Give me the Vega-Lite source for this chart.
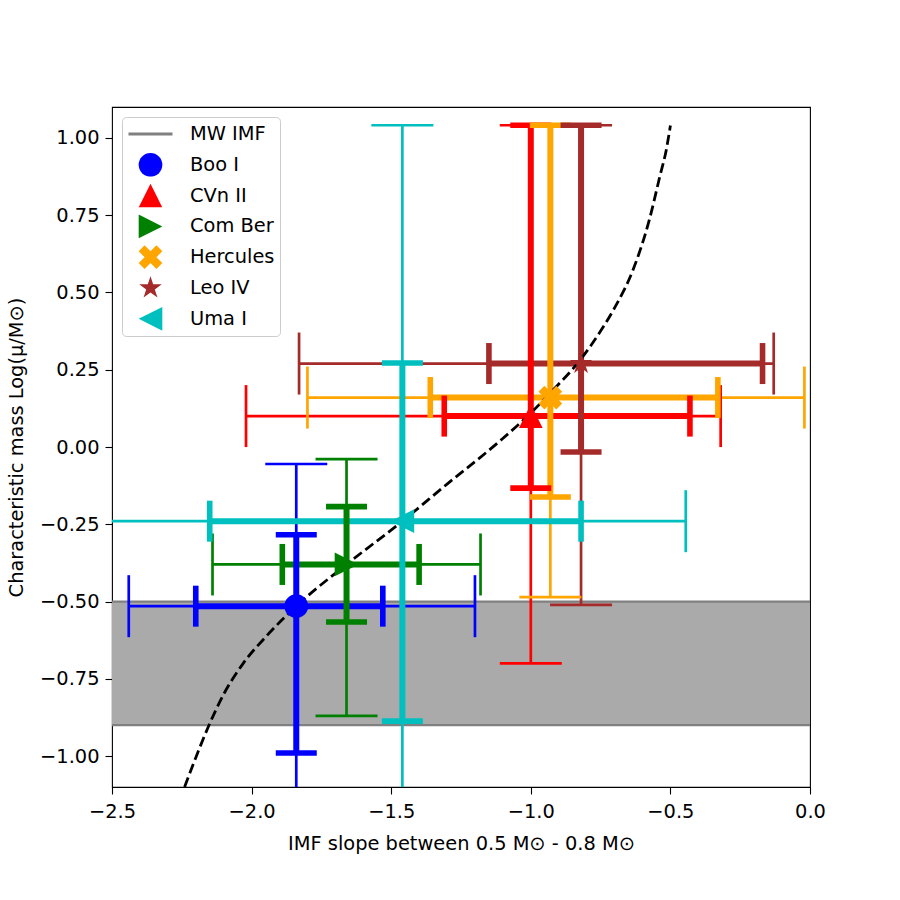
{
  "$schema": "https://vega.github.io/schema/vega-lite/v6.json",
  "autosize": {"type": "none"},
  "width": 698,
  "height": 680,
  "padding": {"left": 112, "top": 107, "right": 90, "bottom": 113},
  "background": "white",
  "config": {
    "view": {"stroke": "black", "strokeWidth": 1.1},
    "axis": {
      "grid": false,
      "domain": false,
      "ticks": true,
      "tickColor": "black",
      "tickWidth": 1.1,
      "tickSize": 7,
      "labelFont": "DejaVu Sans",
      "labelFontSize": 19.4,
      "labelColor": "black",
      "labelPadding": 6,
      "labelFlush": false,
      "labelOverlap": false,
      "titleFont": "DejaVu Sans",
      "titleFontSize": 19.4,
      "titleFontWeight": "normal",
      "titleColor": "black"
    },
    "legend": {
      "orient": "top-left",
      "offset": 10,
      "padding": 5,
      "clipHeight": 24,
      "rowPadding": 6.8,
      "labelOffset": 16,
      "strokeColor": "#cccccc",
      "fillColor": "#ffffff",
      "cornerRadius": 4,
      "symbolOpacity": 1,
      "labelFont": "DejaVu Sans",
      "labelFontSize": 19.4,
      "labelColor": "black",
      "labelLimit": 300
    }
  },
  "datasets": {
    "galaxies": [
      {"name": "Boo I", "x": -1.84, "y": -0.515, "xlo1": -2.20, "xhi1": -1.53, "xlo2": -2.44, "xhi2": -1.20, "ylo1": -0.99, "yhi1": -0.284, "ylo2": -1.5, "yhi2": -0.055},
      {"name": "CVn II", "x": -1.0, "y": 0.10, "xlo1": -1.31, "xhi1": -0.43, "xlo2": -2.02, "xhi2": -0.32, "ylo1": -0.133, "yhi1": 1.041, "ylo2": -0.70, "yhi2": 1.041},
      {"name": "Com Ber", "x": -1.66, "y": -0.38, "xlo1": -1.89, "xhi1": -1.40, "xlo2": -2.14, "xhi2": -1.18, "ylo1": -0.566, "yhi1": -0.193, "ylo2": -0.87, "yhi2": -0.039},
      {"name": "Hercules", "x": -0.93, "y": 0.16, "xlo1": -1.36, "xhi1": -0.33, "xlo2": -1.80, "xhi2": -0.02, "ylo1": -0.162, "yhi1": 1.041, "ylo2": -0.486, "yhi2": 1.041},
      {"name": "Leo IV", "x": -0.82, "y": 0.27, "xlo1": -1.15, "xhi1": -0.17, "xlo2": -1.83, "xhi2": -0.13, "ylo1": -0.016, "yhi1": 1.041, "ylo2": -0.511, "yhi2": 1.041},
      {"name": "Uma I", "x": -1.46, "y": -0.24, "xlo1": -2.15, "xhi1": -0.82, "xlo2": -2.7, "xhi2": -0.445, "ylo1": -0.887, "yhi1": 0.272, "ylo2": -1.4, "yhi2": 1.041}
    ],
    "mwBand": [{"lo": -0.9, "hi": -0.5}],
    "mwEdges": [{"v": -0.5}, {"v": -0.9}],
    "imfCurve": [
      {"slope": -2.24, "mass": -1.10},
      {"slope": -2.20, "mass": -1.005},
      {"slope": -2.155, "mass": -0.905},
      {"slope": -2.10, "mass": -0.80},
      {"slope": -2.03, "mass": -0.70},
      {"slope": -1.95, "mass": -0.615},
      {"slope": -1.84, "mass": -0.515},
      {"slope": -1.66, "mass": -0.38},
      {"slope": -1.46, "mass": -0.24},
      {"slope": -1.30, "mass": -0.12},
      {"slope": -1.11, "mass": 0.02},
      {"slope": -1.00, "mass": 0.11},
      {"slope": -0.93, "mass": 0.175},
      {"slope": -0.82, "mass": 0.285},
      {"slope": -0.75, "mass": 0.375},
      {"slope": -0.70, "mass": 0.45},
      {"slope": -0.633, "mass": 0.575},
      {"slope": -0.574, "mass": 0.74},
      {"slope": -0.538, "mass": 0.875},
      {"slope": -0.514, "mass": 0.965},
      {"slope": -0.50, "mass": 1.04}
    ]
  },
  "resolve": {"scale": {"x": "shared", "y": "shared", "color": "shared", "shape": "shared", "stroke": "shared", "fill": "shared"}},
  "layer": [
    {
      "data": {"name": "mwBand"},
      "mark": {"type": "rect", "color": "#aaaaaa", "clip": true},
      "encoding": {
        "x": {"value": 0},
        "x2": {"value": "width"},
        "y": {"field": "lo", "type": "quantitative",
              "scale": {"domain": [-1.1, 1.1], "nice": false, "zero": false},
              "axis": {"values": [-1, -0.75, -0.5, -0.25, 0, 0.25, 0.5, 0.75, 1], "format": ".2f",
                       "title": "Characteristic mass Log(μ/M⊙)", "titlePadding": 13}},
        "y2": {"field": "hi"}
      }
    },
    {
      "data": {"name": "mwEdges"},
      "mark": {"type": "rule", "color": "#808080", "strokeWidth": 2.2},
      "encoding": {
        "y": {"field": "v", "type": "quantitative"}
      }
    },
    {
      "data": {"name": "galaxies"},
      "mark": {"type": "rule", "strokeWidth": 2.7, "clip": true},
      "encoding": {
        "x": {"field": "xlo2", "type": "quantitative",
              "scale": {"domain": [-2.5, 0], "nice": false, "zero": false},
              "axis": {"values": [-2.5, -2, -1.5, -1, -0.5, 0], "format": ".1f", "labelPadding": 8,
                       "title": "IMF slope between 0.5 M⊙ - 0.8 M⊙", "titlePadding": 14}},
        "x2": {"field": "xhi2"},
        "y": {"field": "y", "type": "quantitative"},
        "stroke": {"field": "name", "type": "nominal", "legend": null,
                   "scale": {"domain": ["Boo I", "CVn II", "Com Ber", "Hercules", "Leo IV", "Uma I"],
                             "range": ["#0000ff", "#ff0000", "#008000", "#ffa500", "#a52a2a", "#00bfbf"]}}
      }
    },
    {
      "data": {"name": "galaxies"},
      "mark": {"type": "rule", "strokeWidth": 2.7, "clip": true},
      "encoding": {
        "x": {"field": "x", "type": "quantitative"},
        "y": {"field": "ylo2", "type": "quantitative"},
        "y2": {"field": "yhi2"},
        "stroke": {"field": "name", "type": "nominal", "legend": null}
      }
    },
    {
      "data": {"name": "galaxies"},
      "transform": [{"fold": ["xlo2", "xhi2"], "as": ["end", "xcap"]}],
      "mark": {"type": "tick", "orient": "vertical", "size": 62, "thickness": 2.7, "clip": true, "opacity": 1},
      "encoding": {
        "x": {"field": "xcap", "type": "quantitative"},
        "y": {"field": "y", "type": "quantitative"},
        "fill": {"field": "name", "type": "nominal", "legend": null,
                 "scale": {"domain": ["Boo I", "CVn II", "Com Ber", "Hercules", "Leo IV", "Uma I"],
                           "range": ["#0000ff", "#ff0000", "#008000", "#ffa500", "#a52a2a", "#00bfbf"]}}
      }
    },
    {
      "data": {"name": "galaxies"},
      "transform": [{"fold": ["ylo2", "yhi2"], "as": ["end", "ycap"]}],
      "mark": {"type": "tick", "orient": "horizontal", "size": 62, "thickness": 2.7, "clip": true, "opacity": 1},
      "encoding": {
        "x": {"field": "x", "type": "quantitative"},
        "y": {"field": "ycap", "type": "quantitative"},
        "fill": {"field": "name", "type": "nominal", "legend": null}
      }
    },
    {
      "data": {"name": "galaxies"},
      "mark": {"type": "rule", "strokeWidth": 6, "clip": true},
      "encoding": {
        "x": {"field": "xlo1", "type": "quantitative"},
        "x2": {"field": "xhi1"},
        "y": {"field": "y", "type": "quantitative"},
        "stroke": {"field": "name", "type": "nominal", "legend": null}
      }
    },
    {
      "data": {"name": "galaxies"},
      "mark": {"type": "rule", "strokeWidth": 6, "clip": true},
      "encoding": {
        "x": {"field": "x", "type": "quantitative"},
        "y": {"field": "ylo1", "type": "quantitative"},
        "y2": {"field": "yhi1"},
        "stroke": {"field": "name", "type": "nominal", "legend": null}
      }
    },
    {
      "data": {"name": "galaxies"},
      "transform": [{"fold": ["xlo1", "xhi1"], "as": ["end", "xcap"]}],
      "mark": {"type": "tick", "orient": "vertical", "size": 41, "thickness": 5.6, "clip": true, "opacity": 1},
      "encoding": {
        "x": {"field": "xcap", "type": "quantitative"},
        "y": {"field": "y", "type": "quantitative"},
        "fill": {"field": "name", "type": "nominal", "legend": null}
      }
    },
    {
      "data": {"name": "galaxies"},
      "transform": [{"fold": ["ylo1", "yhi1"], "as": ["end", "ycap"]}],
      "mark": {"type": "tick", "orient": "horizontal", "size": 41, "thickness": 5.6, "clip": true, "opacity": 1},
      "encoding": {
        "x": {"field": "x", "type": "quantitative"},
        "y": {"field": "ycap", "type": "quantitative"},
        "fill": {"field": "name", "type": "nominal", "legend": null}
      }
    },
    {
      "data": {"name": "imfCurve"},
      "mark": {"type": "line", "color": "black", "strokeWidth": 2.8, "strokeDash": [10, 4.5], "interpolate": "monotone", "clip": true},
      "encoding": {
        "x": {"field": "slope", "type": "quantitative"},
        "y": {"field": "mass", "type": "quantitative"}
      }
    },
    {
      "data": {"name": "galaxies"},
      "mark": {"type": "point", "filled": true, "opacity": 1, "stroke": "#808080"},
      "encoding": {
        "x": {"field": "x", "type": "quantitative"},
        "y": {"field": "y", "type": "quantitative"},
        "color": {
          "field": "name", "type": "nominal",
          "scale": {
            "domain": ["MW IMF", "Boo I", "CVn II", "Com Ber", "Hercules", "Leo IV", "Uma I"],
            "range": ["#808080", "#0000ff", "#ff0000", "#008000", "#ffa500", "#a52a2a", "#00bfbf"]
          },
          "legend": {"title": null}
        },
        "shape": {
          "field": "name", "type": "nominal",
          "scale": {
            "domain": ["MW IMF", "Boo I", "CVn II", "Com Ber", "Hercules", "Leo IV", "Uma I"],
            "range": [
              "stroke",
              "circle",
              "M0,-1L1,1L-1,1Z",
              "M1,0L-1,1L-1,-1Z",
              "M0,-0.5L0.5,-1L1,-0.5L0.5,0L1,0.5L0.5,1L0,0.5L-0.5,1L-1,0.5L-0.5,0L-1,-0.5L-0.5,-1Z",
              "M0,-1L0.225,-0.309L0.951,-0.309L0.363,0.118L0.588,0.809L0,0.382L-0.588,0.809L-0.363,0.118L-0.951,-0.309L-0.225,-0.309Z",
              "M-1,0L1,-1L1,1Z"
            ]
          },
          "legend": {"title": null}
        },
        "size": {
          "field": "name", "type": "nominal",
          "scale": {
            "type": "ordinal",
            "domain": ["MW IMF", "Boo I", "CVn II", "Com Ber", "Hercules", "Leo IV", "Uma I"],
            "range": [1936, 560, 560, 560, 560, 560, 560]
          },
          "legend": {"title": null}
        },
        "strokeWidth": {
          "field": "name", "type": "nominal",
          "scale": {
            "type": "ordinal",
            "domain": ["MW IMF", "Boo I", "CVn II", "Com Ber", "Hercules", "Leo IV", "Uma I"],
            "range": [2.8, 0, 0, 0, 0, 0, 0]
          },
          "legend": {"title": null}
        }
      }
    }
  ]
}
